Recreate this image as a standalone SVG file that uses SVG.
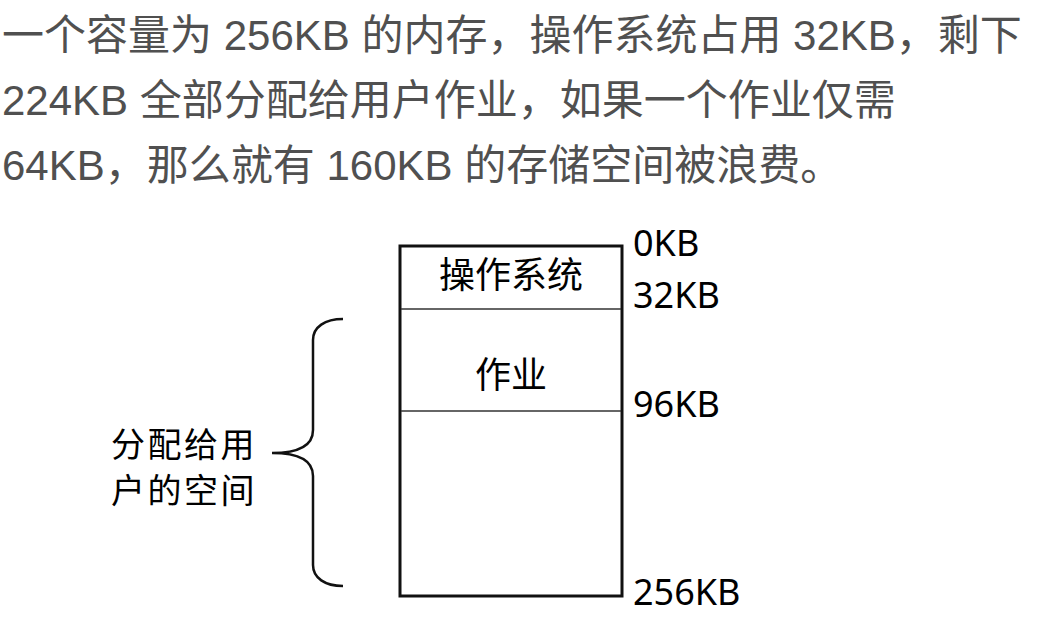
<svg xmlns="http://www.w3.org/2000/svg" width="1053" height="635" viewBox="0 0 1053 635">
<style>
.para{font-family:"Liberation Sans","Noto Sans CJK SC",sans-serif;font-size:42px;fill:#505050}
.lbl{font-family:"Noto Sans","Noto Sans CJK SC",sans-serif;font-size:36px;fill:#000}
.cjk{font-family:"Noto Sans CJK SC",sans-serif;font-size:36px;fill:#000}
.side{font-family:"Noto Sans CJK SC",sans-serif;font-size:34px;letter-spacing:2.5px;fill:#000}
.box{fill:#fff;stroke:#111;stroke-width:3}
.div{stroke:#333;stroke-width:1.5}
.brace{fill:none;stroke:#111;stroke-width:2.5}
</style>
<rect width="1053" height="635" fill="#fff"/>
<g id="paragraph">
<text class="para" x="2" y="50">一个容量为 256KB 的内存，操作系统占用 32KB，剩下</text>
<text class="para" x="2" y="115">224KB 全部分配给用户作业，如果一个作业仅需</text>
<text class="para" x="2" y="180">64KB，那么就有 160KB 的存储空间被浪费。</text>
</g>
<g id="memory">
<rect class="box" x="400" y="246" width="222" height="350"/>
<line class="div" x1="401" y1="309" x2="621" y2="309"/>
<line class="div" x1="401" y1="411" x2="621" y2="411"/>
</g>
<g id="os">
<text class="cjk" x="511" y="288" text-anchor="middle">操作系统</text>
</g>
<g id="job">
<text class="cjk" x="511" y="388" text-anchor="middle">作业</text>
</g>
<g id="addresses">
<text class="lbl" x="633" y="256">0KB</text>
<text class="lbl" x="633" y="308">32KB</text>
<text class="lbl" x="633" y="417">96KB</text>
<text class="lbl" x="633" y="605">256KB</text>
</g>
<g id="user-space">
<text class="side" x="111" y="457">分配给用</text>
<text class="side" x="111" y="503">户的空间</text>
</g>
<g id="connectors">
<path class="brace" d="M343,319 C325,319 313,327 313,340 L313,430 C313,445 300,453 272,453 C300,453 313,461 313,476 L313,565 C313,578 325,586 343,586"/>
</g>
</svg>
